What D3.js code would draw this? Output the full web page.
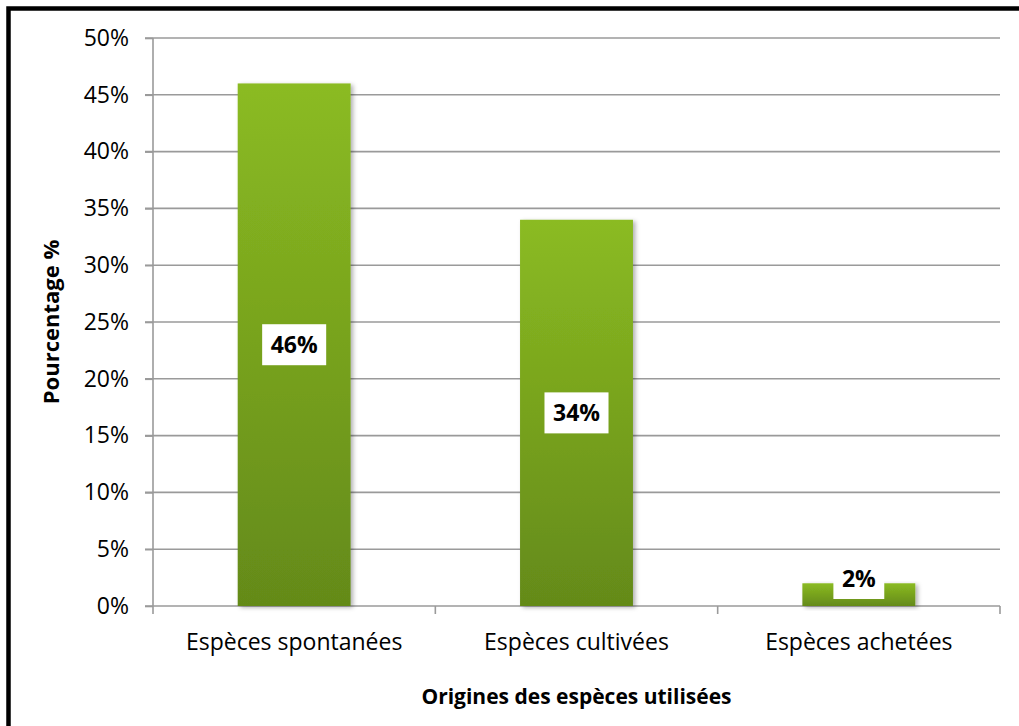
<!DOCTYPE html>
<html>
<head>
<meta charset="utf-8">
<script src="https://cdn.jsdelivr.net/npm/d3@7"></script>
<style>
  html, body { margin: 0; padding: 0; background: #fff; }
  svg { display: block; font-family: "Open Sans", sans-serif; }
</style>
</head>
<body>
<svg id="chart" width="1019" height="726"></svg>
<script>
// Origin of the species used, share in percent
const categories = ["Espèces spontanées", "Espèces cultivées", "Espèces achetées"];
const values = [46, 34, 2];
const tickValues = [0, 5, 10, 15, 20, 25, 30, 35, 40, 45, 50];
const xTitle = "Origines des espèces utilisées";
const yTitle = "Pourcentage %";

const svg = d3.select("#chart");
const W = 1019, H = 726;
const m = { left: 153, right: 19, top: 38, bottom: 120 };
const FONT = "'Open Sans', sans-serif";

// Outer frame (continues past the right and bottom edges)
svg.append("rect")
  .attr("x", 8.5).attr("y", 8.5)
  .attr("width", W + 20).attr("height", H + 20)
  .attr("fill", "#fff").attr("stroke", "#000").attr("stroke-width", 4.5);

const defs = svg.append("defs");
const grad = defs.append("linearGradient")
  .attr("id", "barGrad").attr("x1", 0).attr("y1", 0).attr("x2", 0).attr("y2", 1);
grad.append("stop").attr("offset", "0%").attr("stop-color", "#8bbb22");
grad.append("stop").attr("offset", "100%").attr("stop-color", "#648a19");

const shadow = defs.append("filter").attr("id", "barShadow")
  .attr("x", "-10%").attr("y", "-10%").attr("width", "130%").attr("height", "130%");
shadow.append("feDropShadow")
  .attr("dx", 2.5).attr("dy", 1.5).attr("stdDeviation", 2)
  .attr("flood-color", "#000").attr("flood-opacity", 0.3);

const x = d3.scaleBand()
  .domain(categories)
  .range([m.left, W - m.right]);

const y = d3.scaleLinear()
  .domain([0, 50])
  .range([H - m.bottom, m.top]);

// Horizontal gridlines
svg.append("g")
  .selectAll("line")
  .data(tickValues.filter(d => d > 0))
  .join("line")
  .attr("x1", m.left - 8).attr("x2", W - m.right)
  .attr("y1", d => y(d)).attr("y2", d => y(d))
  .attr("stroke", "#9a9a9a").attr("stroke-width", 1.6);

// Y axis
const yAxis = svg.append("g")
  .attr("transform", `translate(${m.left},0)`)
  .call(d3.axisLeft(y).tickValues(tickValues).tickFormat(d => d + "%").tickSize(8).tickPadding(16));
yAxis.select(".domain").attr("stroke", "#9a9a9a").attr("stroke-width", 1.6)
  .attr("d", `M0,${y(50)}V${y(0)}`);
yAxis.selectAll(".tick line").attr("stroke", "#9a9a9a").attr("stroke-width", 1.6);
yAxis.selectAll(".tick text")
  .attr("font-family", FONT)
  .attr("font-size", 23).attr("fill", "#000");

// X axis with tick marks at category boundaries
const xAxisG = svg.append("g").attr("transform", `translate(0,${y(0)})`);
xAxisG.append("line")
  .attr("x1", m.left - 8).attr("x2", W - m.right)
  .attr("stroke", "#9a9a9a").attr("stroke-width", 1.6);
const bounds = categories.map(c => x(c)).concat([x(categories[categories.length - 1]) + x.bandwidth()]);
xAxisG.selectAll("line.tk")
  .data(bounds)
  .join("line").attr("class", "tk")
  .attr("x1", d => d).attr("x2", d => d)
  .attr("y1", 0).attr("y2", 8)
  .attr("stroke", "#9a9a9a").attr("stroke-width", 1.6);
xAxisG.selectAll("text")
  .data(categories)
  .join("text")
  .attr("x", d => x(d) + x.bandwidth() / 2)
  .attr("y", 44)
  .attr("text-anchor", "middle")
  .attr("font-size", 23)
  .attr("fill", "#000")
  .text(d => d);

// Bars
const barW = x.bandwidth() / 2.5;
const data = categories.map((c, i) => ({ c, v: values[i] }));
svg.append("g")
  .selectAll("rect")
  .data(data)
  .join("rect")
  .attr("x", d => x(d.c) + (x.bandwidth() - barW) / 2)
  .attr("y", d => y(d.v))
  .attr("width", barW)
  .attr("height", d => y(0) - y(d.v))
  .attr("fill", "url(#barGrad)")
  .attr("filter", "url(#barShadow)");

// Value labels on white boxes
const boxH = 41;
const labels = svg.append("g").selectAll("g")
  .data(data)
  .join("g")
  .attr("transform", d => {
    const cx = x(d.c) + x.bandwidth() / 2;
    const mid = (y(d.v) + y(0)) / 2;
    const cy = Math.min(mid, y(0) - 7 - boxH / 2);
    return `translate(${cx},${cy})`;
  });
labels.append("text")
  .attr("text-anchor", "middle")
  .attr("dy", "0.36em")
  .attr("font-weight", "bold")
  .attr("font-size", 23)
  .attr("fill", "#000")
  .text(d => d.v + "%")
  .each(function () {
    const w = this.getComputedTextLength();
    d3.select(this.parentNode).insert("rect", "text")
      .attr("x", -w / 2 - 8.5).attr("y", -boxH / 2)
      .attr("width", w + 17).attr("height", boxH)
      .attr("fill", "#fff");
  });

// Axis titles
svg.append("text")
  .attr("x", (m.left + W - m.right) / 2)
  .attr("y", 704)
  .attr("text-anchor", "middle")
  .attr("font-weight", "bold")
  .attr("font-size", 21)
  .attr("fill", "#000")
  .text(xTitle);

svg.append("text")
  .attr("transform", `translate(59,${y(25)}) rotate(-90)`)
  .attr("text-anchor", "middle")
  .attr("font-weight", "bold")
  .attr("font-size", 22)
  .attr("fill", "#000")
  .text(yTitle);
</script>
</body>
</html>
